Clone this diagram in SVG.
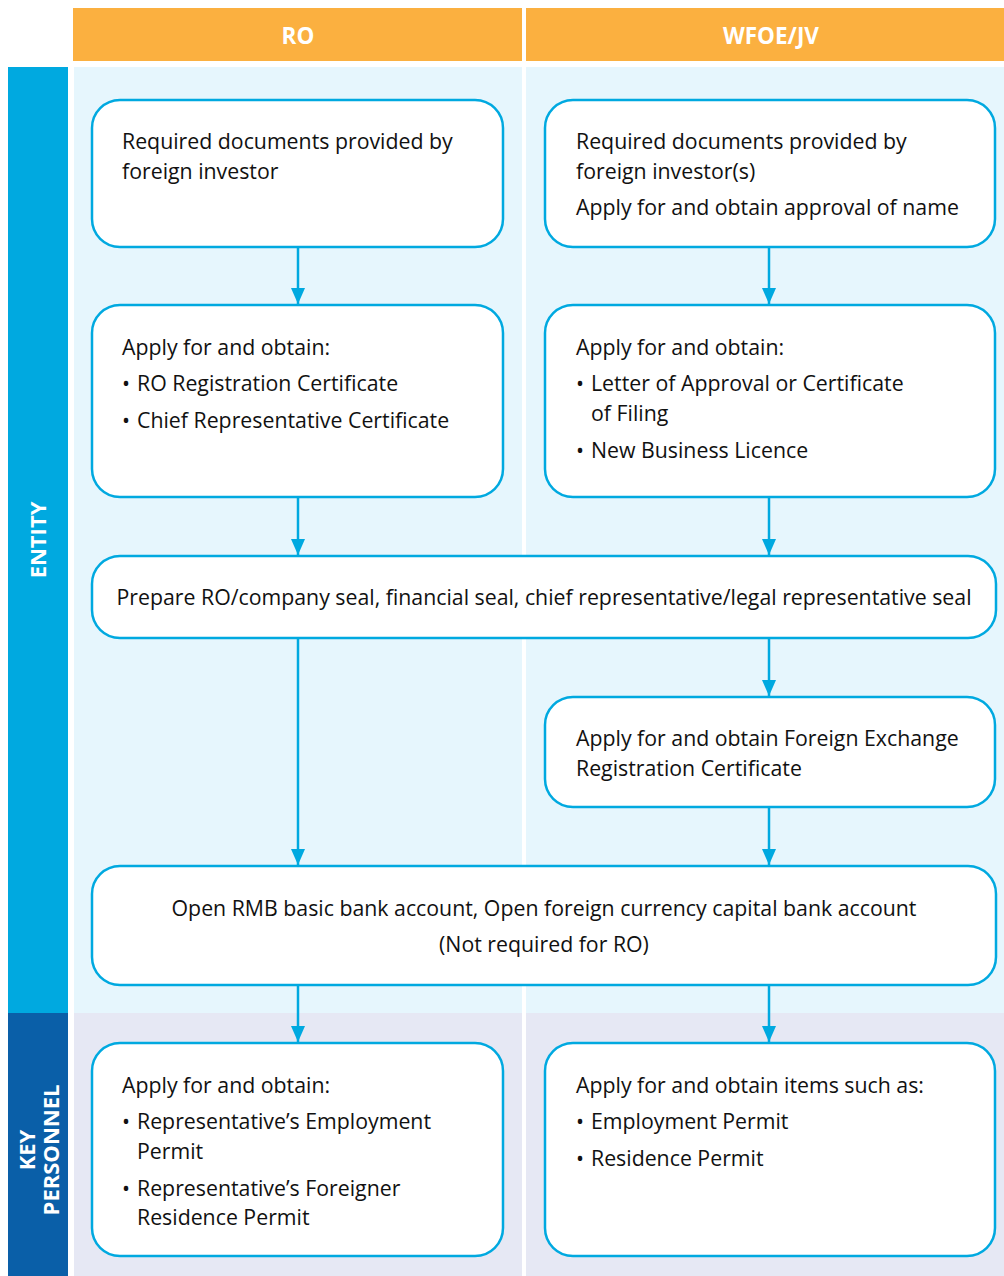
<svg xmlns="http://www.w3.org/2000/svg" width="1004" height="1276" viewBox="0 0 1004 1276">
<style>
.hdr{fill:#fbb040}
.hdrt{font-family:"Open Sans","Noto Sans",sans-serif;font-weight:bold;font-size:22.5px;fill:#fff;text-anchor:middle}
.side{font-family:"Open Sans","Noto Sans",sans-serif;font-weight:bold;font-size:22px;fill:#fff;text-anchor:middle}
.box{fill:#fff;stroke:#00a9e0;stroke-width:2.5}
.t{font-family:"Open Sans","Noto Sans",sans-serif;font-size:21.3px;fill:#111}
.c{text-anchor:middle}
.con line{stroke:#00a9e0;stroke-width:2.5;marker-end:url(#ah)}
</style>
<defs>
<marker id="ah" viewBox="0 0 16 14" refX="16" refY="7" markerWidth="16" markerHeight="14" markerUnits="userSpaceOnUse" orient="auto">
<path d="M0,0 L16,7 L0,14 Z" fill="#00a9e0"/>
</marker>
</defs>
<rect width="1004" height="1276" fill="#fff"/>
<!-- backgrounds -->
<rect x="74" y="67" width="448" height="946" fill="#e6f6fd"/>
<rect x="526" y="67" width="478" height="946" fill="#e6f6fd"/>
<rect x="74" y="1013" width="448" height="263" fill="#e6e8f4"/>
<rect x="526" y="1013" width="478" height="263" fill="#e6e8f4"/>
<!-- headers -->
<g id="hdr-ro"><rect class="hdr" x="73" y="8" width="449" height="53"/><text class="hdrt" x="298" y="44">RO</text></g>
<g id="hdr-wfoe"><rect class="hdr" x="526" y="8" width="478" height="53"/><text class="hdrt" x="771" y="44">WFOE/JV</text></g>
<!-- side labels -->
<g id="side-entity"><rect x="8" y="67" width="60" height="946" fill="#00a9e0"/><text class="side" transform="translate(46 540) rotate(-90)">ENTITY</text></g>
<g id="side-key"><rect x="8" y="1013" width="60" height="263" fill="#0a5fa8"/><text class="side" transform="translate(35 1150) rotate(-90)">KEY</text><text class="side" transform="translate(59 1150) rotate(-90)">PERSONNEL</text></g>
<!-- connectors -->
<g id="connectors" class="con">
<line x1="298" y1="247" x2="298" y2="304"/>
<line x1="298" y1="497" x2="298" y2="555"/>
<line x1="298" y1="638" x2="298" y2="865"/>
<line x1="298" y1="985" x2="298" y2="1042"/>
<line x1="769" y1="247" x2="769" y2="304"/>
<line x1="769" y1="497" x2="769" y2="555"/>
<line x1="769" y1="638" x2="769" y2="696"/>
<line x1="769" y1="807" x2="769" y2="865"/>
<line x1="769" y1="985" x2="769" y2="1042"/>
</g>
<!-- nodes -->
<g id="ro-docs"><rect class="box" x="92" y="100" width="411" height="147" rx="28"/>
<text class="t" x="122" y="149">Required documents provided by</text>
<text class="t" x="122" y="179">foreign investor</text></g>
<g id="wfoe-docs"><rect class="box" x="545" y="100" width="450" height="147" rx="28"/>
<text class="t" x="576" y="149">Required documents provided by</text>
<text class="t" x="576" y="179">foreign investor(s)</text>
<text class="t" x="576" y="215">Apply for and obtain approval of name</text></g>
<g id="ro-apply"><rect class="box" x="92" y="305" width="411" height="192" rx="28"/>
<text class="t" x="122" y="355">Apply for and obtain:</text>
<text class="t" x="122" y="391">•</text><text class="t" x="137" y="391">RO Registration Certificate</text>
<text class="t" x="122" y="428">•</text><text class="t" x="137" y="428">Chief Representative Certificate</text></g>
<g id="wfoe-apply"><rect class="box" x="545" y="305" width="450" height="192" rx="28"/>
<text class="t" x="576" y="355">Apply for and obtain:</text>
<text class="t" x="576" y="391">•</text><text class="t" x="591" y="391">Letter of Approval or Certificate</text>
<text class="t" x="591" y="421">of Filing</text>
<text class="t" x="576" y="458">•</text><text class="t" x="591" y="458">New Business Licence</text></g>
<g id="seal"><rect class="box" x="92" y="556" width="904" height="82" rx="28"/>
<text class="t c" x="544" y="605">Prepare RO/company seal, financial seal, chief representative/legal representative seal</text></g>
<g id="fx"><rect class="box" x="545" y="697" width="450" height="110" rx="28"/>
<text class="t" x="576" y="746">Apply for and obtain Foreign Exchange</text>
<text class="t" x="576" y="776">Registration Certificate</text></g>
<g id="bank"><rect class="box" x="92" y="866" width="904" height="119" rx="28"/>
<text class="t c" x="544" y="916">Open RMB basic bank account, Open foreign currency capital bank account</text>
<text class="t c" x="544" y="952">(Not required for RO)</text></g>
<g id="ro-permits"><rect class="box" x="92" y="1043" width="411" height="213" rx="28"/>
<text class="t" x="122" y="1093">Apply for and obtain:</text>
<text class="t" x="122" y="1129">•</text><text class="t" x="137" y="1129">Representative’s Employment</text>
<text class="t" x="137" y="1159">Permit</text>
<text class="t" x="122" y="1196">•</text><text class="t" x="137" y="1196">Representative’s Foreigner</text>
<text class="t" x="137" y="1225">Residence Permit</text></g>
<g id="wfoe-permits"><rect class="box" x="545" y="1043" width="450" height="213" rx="28"/>
<text class="t" x="576" y="1093">Apply for and obtain items such as:</text>
<text class="t" x="576" y="1129">•</text><text class="t" x="591" y="1129">Employment Permit</text>
<text class="t" x="576" y="1166">•</text><text class="t" x="591" y="1166">Residence Permit</text></g>
</svg>
